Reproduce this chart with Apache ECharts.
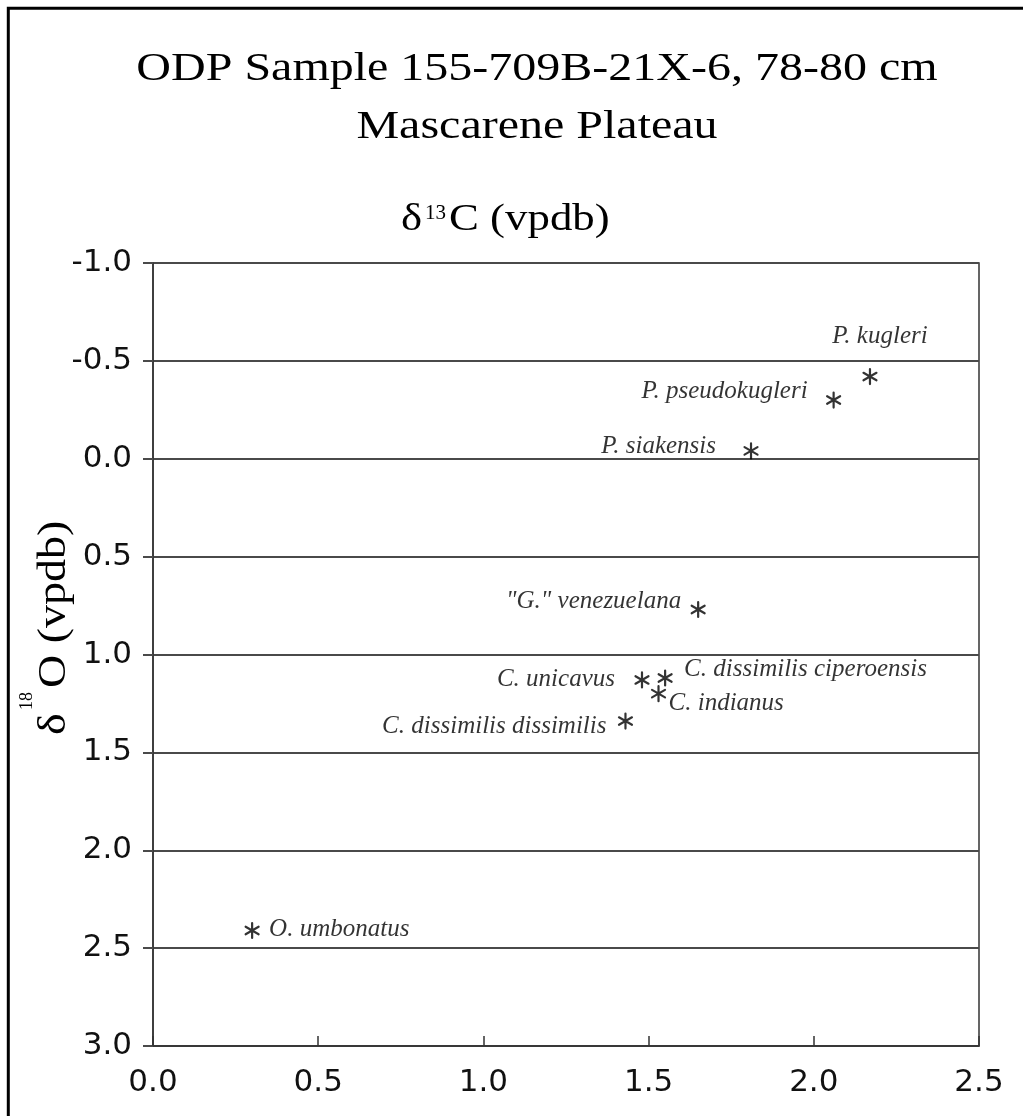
<!DOCTYPE html>
<html>
<head>
<meta charset="utf-8">
<script src="https://cdn.jsdelivr.net/npm/echarts@6/dist/echarts.min.js"></script>
<style>
  html, body { margin: 0; padding: 0; background: #fff; }
  #chart { width: 1023px; height: 1116px; }
</style>
</head>
<body>
<div id="chart"></div>
<script>
// ---- data ----
const species = [
  'P. kugleri',
  'P. pseudokugleri',
  'P. siakensis',
  '"G." venezuelana',
  'C. unicavus',
  'C. dissimilis ciperoensis',
  'C. indianus',
  'C. dissimilis dissimilis',
  'O. umbonatus'
];
const d13C = [2.17, 2.06, 1.81, 1.65, 1.48, 1.55, 1.53, 1.43, 0.30];
const d18O = [-0.42, -0.30, -0.04, 0.77, 1.13, 1.12, 1.20, 1.34, 2.41];
const xTickRange = [0.0, 2.5, 0.5];   // min, max, step
const yTickRange = [-1.0, 3.0, 0.5];  // min, max, step

// ---- label placement (layout only) ----
const labelPlacement = {
  'P. kugleri':                 { align: 'center', dx: 10,  dy: -40 },
  'P. pseudokugleri':           { align: 'right',  dx: -26, dy: -9 },
  'P. siakensis':               { align: 'right',  dx: -35, dy: -4 },
  '"G." venezuelana':           { align: 'right',  dx: -17, dy: -8 },
  'C. unicavus':                { align: 'right',  dx: -27, dy: -1 },
  'C. dissimilis ciperoensis':  { align: 'left',   dx: 19,  dy: -9 },
  'C. indianus':                { align: 'left',   dx: 10,  dy: 10 },
  'C. dissimilis dissimilis':   { align: 'right',  dx: -19, dy: 5 },
  'O. umbonatus':               { align: 'left',   dx: 17,  dy: -1 }
};

const serif = 'Liberation Serif';
const sans = 'DejaVu Sans';
const asterisk = 'path://M0,-10L0,10M-8.66,-5L8.66,5M-8.66,5L8.66,-5';

const seriesData = species.map((name, i) => {
  const p = labelPlacement[name];
  return {
    name: name,
    value: [d13C[i], d18O[i]],
    label: { align: p.align, offset: [p.dx, p.dy] }
  };
});

function txt(text, size, extra) {
  return Object.assign({
    text: text, fontFamily: serif, fontSize: size, fill: '#000',
    align: 'left', verticalAlign: 'middle'
  }, extra || {});
}

const chart = echarts.init(document.getElementById('chart'), null, { renderer: 'canvas' });

const option = {
  backgroundColor: '#ffffff',
  animation: false,
  grid: {
    left: 153, right: 44, top: 263, bottom: 70,
    show: true, borderColor: '#333', borderWidth: 1.5, backgroundColor: 'transparent'
  },
  xAxis: {
    type: 'value',
    min: xTickRange[0], max: xTickRange[1], interval: xTickRange[2],
    axisLine: { show: true, onZero: false, lineStyle: { color: '#333', width: 1.5 } },
    axisTick: { show: true, inside: true, length: 10, lineStyle: { color: '#333', width: 1.5 } },
    splitLine: { show: false },
    axisLabel: {
      margin: 21, color: '#111', fontFamily: sans, fontSize: 31,
      formatter: v => v.toFixed(1)
    }
  },
  yAxis: {
    type: 'value', inverse: true,
    min: yTickRange[0], max: yTickRange[1], interval: yTickRange[2],
    axisLine: { show: true, onZero: false, lineStyle: { color: '#333', width: 1.5 } },
    axisTick: { show: true, inside: false, length: 10, lineStyle: { color: '#4a4a4a', width: 2 } },
    splitLine: { show: true, lineStyle: { color: '#4a4a4a', width: 2 } },
    axisLabel: {
      margin: 21, color: '#111', fontFamily: sans, fontSize: 31,
      formatter: v => v.toFixed(1)
    }
  },
  series: [{
    type: 'scatter',
    data: seriesData,
    symbol: asterisk,
    symbolSize: 15,
    symbolKeepAspect: true,
    itemStyle: { color: 'none', borderColor: '#000', borderWidth: 2.2, borderCap: 'round' },
    label: {
      show: true,
      position: 'inside',
      formatter: '{b}',
      verticalAlign: 'middle',
      color: '#000',
      fontFamily: serif,
      fontStyle: 'italic',
      fontSize: 25
    },
    emphasis: { disabled: true }
  }],
  graphic: [
    {
      type: 'rect', silent: true, z: 100,
      shape: { x: 8.3, y: 8.3, width: 1200, height: 1300 },
      style: { fill: 'none', stroke: '#000', lineWidth: 3 }
    },
    {
      type: 'text', x: 537, y: 69, scaleX: 1.2, silent: true,
      style: txt('ODP Sample 155-709B-21X-6, 78-80 cm', 40, { align: 'center' })
    },
    {
      type: 'text', x: 537, y: 127, scaleX: 1.2, silent: true,
      style: txt('Mascarene Plateau', 40, { align: 'center' })
    },
    // x-axis name: δ13C (vpdb)
    { type: 'text', x: 401, y: 220, scaleX: 1.18, silent: true, style: txt('δ', 38) },
    { type: 'text', x: 425, y: 213, silent: true, style: txt('13', 21) },
    { type: 'text', x: 449, y: 220, scaleX: 1.18, silent: true, style: txt('C (vpdb)', 38) },
    // y-axis name: δ18O (vpdb), rotated
    {
      type: 'group', x: 54.5, y: 735, rotation: Math.PI / 2, silent: true,
      children: [
        { type: 'text', x: 0, y: 0, scaleX: 1.15, style: txt('δ', 40) },
        { type: 'text', x: 25, y: -27, style: txt('18', 18) },
        { type: 'text', x: 47, y: 0, scaleX: 1.15, style: txt('O (vpdb)', 40) }
      ]
    }
  ]
};

chart.setOption(option);
</script>
</body>
</html>
